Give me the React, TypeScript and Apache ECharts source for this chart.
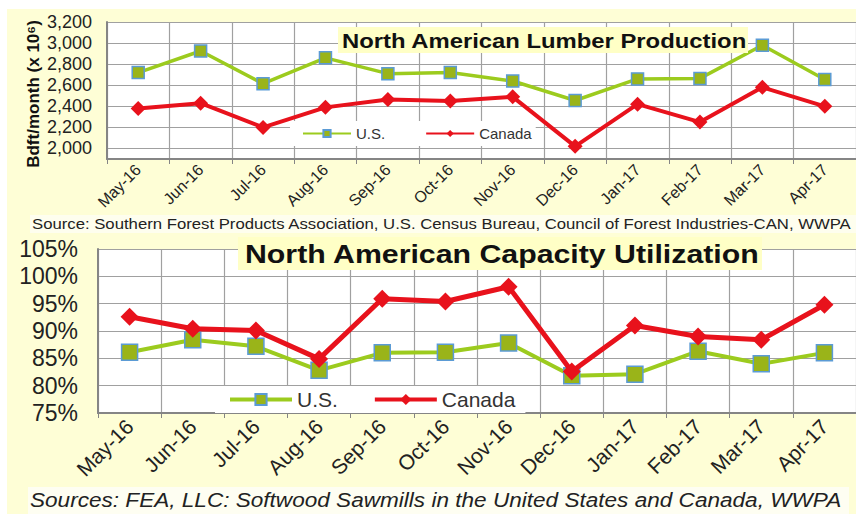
import React, { useEffect, useRef } from 'react';
import * as echarts from 'echarts';

const months = ['May-16', 'Jun-16', 'Jul-16', 'Aug-16', 'Sep-16', 'Oct-16', 'Nov-16', 'Dec-16', 'Jan-17', 'Feb-17', 'Mar-17', 'Apr-17'];
const lumberUS = [2720, 2925, 2615, 2860, 2710, 2720, 2640, 2455, 2660, 2665, 2980, 2655];
const lumberCanada = [2380, 2430, 2200, 2390, 2465, 2450, 2490, 2020, 2420, 2250, 2580, 2400];
const capacityUS = [86.1, 88.4, 87.2, 82.8, 86.0, 86.1, 87.8, 81.8, 82.1, 86.3, 84.0, 86.0];
const capacityCanada = [92.6, 90.4, 90.1, 84.9, 95.9, 95.4, 98.1, 82.6, 91.0, 89.0, 88.4, 94.8];
const lumberTickValues = [2000, 2200, 2400, 2600, 2800, 3000, 3200];
const capacityTickValues = [75, 80, 85, 90, 95, 100, 105];

const FONT = 'Liberation Sans, Arial, sans-serif';
const GREEN = '#9CCB1E';
const GREEN_FILL = '#9AB419';
const BLUE_EDGE = '#5B9BD5';
const RED = '#E8121C';

export default function App() {
  const ref = useRef<HTMLDivElement>(null);

  useEffect(() => {
    if (!ref.current) return;
    const chart = echarts.init(ref.current, null, { renderer: 'svg' });
    const textEl = (text: string, x: number, y: number, size: number, extra: any, scaleX = 1, z = 5) => ({
      type: 'text',
      x,
      y,
      scaleX,
      z,
      silent: true,
      style: {
        text,
        fontSize: size,
        fontFamily: FONT,
        fill: '#1a1a1a',
        align: 'left',
        verticalAlign: 'middle',
        ...extra,
      },
    });
    const option: any = {
      animation: false,
      textStyle: { fontFamily: FONT },
      graphic: [
        { type: 'rect', z: 1, shape: { x: 30, y: 215, width: 826, height: 18 }, style: { fill: '#FEFEEE' }, silent: true },
        { type: 'rect', z: 1, shape: { x: 28, y: 487, width: 821, height: 27 }, style: { fill: '#FEFEF2' }, silent: true },
        { type: 'rect', z: 10, shape: { x: 338, y: 27, width: 410, height: 26 }, style: { fill: '#FFFFC6' }, silent: true },
        textEl('North American Lumber Production', 342, 40.5, 21, { fontWeight: 'bold', fill: '#111' }, 1.135, 11),
        { type: 'rect', z: 10, shape: { x: 238, y: 237, width: 524, height: 33 }, style: { fill: '#FFFFC6' }, silent: true },
        textEl('North American Capacity Utilization', 245, 254, 26, { fontWeight: 'bold', fill: '#111' }, 1.165, 11),
        {
          type: 'text',
          x: 33,
          y: 94,
          rotation: Math.PI / 2,
          silent: true,
          style: {
            text: 'Bdft/month (x 10⁶)',
            fontSize: 17,
            fontWeight: 'bold',
            fontFamily: FONT,
            fill: '#111',
            align: 'center',
            verticalAlign: 'middle',
          },
        },
        textEl(
          'Source: Southern Forest Products Association, U.S. Census Bureau, Council of Forest Industries-CAN, WWPA',
          32,
          224,
          14,
          { fill: '#222' },
          1.195,
        ),
        textEl(
          'Sources: FEA, LLC: Softwood Sawmills in the United States and Canada, WWPA',
          30,
          500,
          21,
          { fontStyle: 'italic', fill: '#222' },
          1.075,
        ),
      ],
      legend: [
        {
          data: ['U.S.', 'Canada'],
          left: 290,
          top: 121,
          orient: 'horizontal',
          backgroundColor: '#fff',
          padding: [5, 4, 5, 12],
          itemWidth: 48,
          itemHeight: 9,
          itemGap: 40,
          selectedMode: false,
          textStyle: { fontSize: 15, color: '#333', fontFamily: FONT },
        },
        {
          data: ['U.S.', 'Canada'],
          left: 215,
          top: 386,
          orient: 'horizontal',
          backgroundColor: '#fff',
          padding: [3, 10, 3, 13],
          itemWidth: 62,
          itemHeight: 14,
          itemGap: 35,
          selectedMode: false,
          lineStyle: { width: 4 },
          textStyle: { fontSize: 21, color: '#333', fontFamily: FONT },
        },
      ],
      grid: [
        { left: 107, top: 22, width: 758, height: 137, show: true, backgroundColor: '#fff', borderWidth: 0 },
        { left: 98, top: 249, width: 769, height: 164, show: true, backgroundColor: '#fff', borderWidth: 0 },
      ],
      xAxis: [
        {
          type: 'category',
          gridIndex: 0,
          data: months,
          boundaryGap: true,
          axisLine: { lineStyle: { color: '#858585', width: 2 } },
          axisTick: { show: true, length: 5, lineStyle: { color: '#858585' } },
          splitLine: { show: true, lineStyle: { color: '#A0A0A0', width: 1.2 } },
          axisLabel: { interval: 0, rotate: 45, fontSize: 16, color: '#222', margin: 8, fontFamily: FONT },
        },
        {
          type: 'category',
          gridIndex: 1,
          data: months,
          boundaryGap: true,
          axisLine: { lineStyle: { color: '#858585', width: 2 } },
          axisTick: { show: true, length: 5, lineStyle: { color: '#858585' } },
          splitLine: { show: true, lineStyle: { color: '#A0A0A0', width: 1.2 } },
          axisLabel: { interval: 0, rotate: 45, fontSize: 21, color: '#222', margin: 10, fontFamily: FONT },
        },
      ],
      yAxis: [
        {
          type: 'value',
          gridIndex: 0,
          min: 1900,
          max: 3200,
          interval: 100,
          axisLine: { show: true, lineStyle: { color: '#858585', width: 2 } },
          axisTick: { show: false },
          splitLine: { show: true, lineStyle: { color: ['rgba(0,0,0,0)', '#A0A0A0'], width: 1.2 } },
          axisLabel: {
            fontSize: 18,
            color: '#222',
            margin: 15,
            fontFamily: FONT,
            formatter: (v: number) => (lumberTickValues.includes(v) ? v.toLocaleString('en-US') : ''),
          },
        },
        {
          type: 'value',
          gridIndex: 1,
          min: 75,
          max: 105,
          interval: 5,
          axisLine: { show: true, lineStyle: { color: '#858585', width: 2 } },
          axisTick: { show: false },
          splitLine: { show: true, lineStyle: { color: '#A0A0A0', width: 1.2 } },
          axisLabel: {
            fontSize: 23,
            color: '#222',
            margin: 20,
            fontFamily: FONT,
            formatter: (v: number) => (capacityTickValues.includes(v) ? v + '%' : ''),
          },
        },
      ],
      series: [
        {
          name: 'U.S.',
          type: 'line',
          xAxisIndex: 0,
          yAxisIndex: 0,
          data: lumberUS,
          symbol: 'rect',
          symbolSize: 12,
          lineStyle: { color: GREEN, width: 3.5 },
          itemStyle: { color: GREEN_FILL, borderColor: BLUE_EDGE, borderWidth: 1.5 },
          emphasis: { disabled: true },
          z: 3,
        },
        {
          name: 'Canada',
          type: 'line',
          xAxisIndex: 0,
          yAxisIndex: 0,
          data: lumberCanada,
          symbol: 'diamond',
          symbolSize: 15,
          lineStyle: { color: RED, width: 4 },
          itemStyle: { color: RED },
          emphasis: { disabled: true },
          z: 3,
        },
        {
          name: 'U.S.',
          type: 'line',
          xAxisIndex: 1,
          yAxisIndex: 1,
          data: capacityUS,
          symbol: 'rect',
          symbolSize: 16,
          lineStyle: { color: GREEN, width: 4 },
          itemStyle: { color: GREEN_FILL, borderColor: BLUE_EDGE, borderWidth: 1.5 },
          emphasis: { disabled: true },
          z: 3,
        },
        {
          name: 'Canada',
          type: 'line',
          xAxisIndex: 1,
          yAxisIndex: 1,
          data: capacityCanada,
          symbol: 'diamond',
          symbolSize: 18,
          lineStyle: { color: RED, width: 5 },
          itemStyle: { color: RED },
          emphasis: { disabled: true },
          z: 4,
        },
      ],
    };
    chart.setOption(option);
    return () => chart.dispose();
  }, []);

  return (
    <div style={{ position: 'absolute', left: 0, top: 0, width: 856, height: 514, background: '#fff', overflow: 'hidden' }}>
      <div style={{ position: 'absolute', left: 7, top: 9, width: 849, height: 505, background: '#FEFED6' }} />
      <div ref={ref} style={{ position: 'absolute', left: 0, top: 0, width: 856, height: 514 }} />
    </div>
  );
}
